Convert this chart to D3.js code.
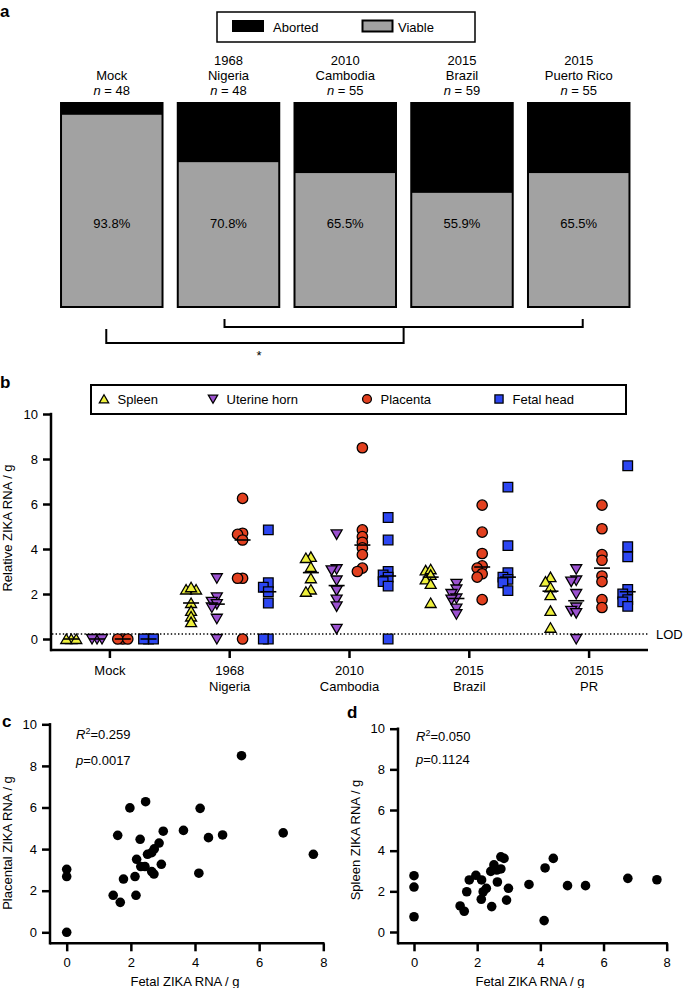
<!DOCTYPE html>
<html><head><meta charset="utf-8">
<script src="https://cdn.jsdelivr.net/npm/d3@7"></script>
<style>
body{margin:0;background:#fff;}
svg{display:block;font-family:"Liberation Sans",Arial,Helvetica,sans-serif;}
</style></head><body>
<svg id="chart" width="685" height="988"></svg>
<script>
// ---------- Panel a data ----------
const catA = ["Mock","1968 Nigeria","2010 Cambodia","2015 Brazil","2015 Puerto Rico"];
const catALine1 = ["","1968","2010","2015","2015"];
const catALine2 = ["Mock","Nigeria","Cambodia","Brazil","Puerto Rico"];
const catAN = [48,48,55,59,55];
const viablePct = [93.8,70.8,65.5,55.9,65.5];
const outcomeLegend = ["Aborted","Viable"];

// ---------- Panel b data ----------
const catB = ["Mock","1968 Nigeria","2010 Cambodia","2015 Brazil","2015 PR"];
const catBLine1 = ["Mock","1968","2010","2015","2015"];
const catBLine2 = ["","Nigeria","Cambodia","Brazil","PR"];
const tissues = ["Spleen","Uterine horn","Placenta","Fetal head"];
const spleenRNA = [
  [0,0,0],
  [2.2,2.2,2.3,1.6,1.25,1.0,0.75],
  [3.65,3.6,3.2,2.7,2.2,2.1],
  [3.05,3.1,2.85,2.65,2.45,1.6],
  [2.75,2.55,2.3,1.95,1.25,0.5]
];
const uterineRNA = [
  [0,0,0],
  [2.7,1.85,1.65,1.55,1.4,0.9,0],
  [4.65,3.1,3.05,2.6,2.15,1.75,1.45,0.45],
  [2.45,2.2,2.0,1.8,1.75,1.35,1.1],
  [3.1,2.6,2.55,2.0,1.4,1.25,1.15,0]
];
const placentaRNA = [
  [0,0,0],
  [6.25,4.7,4.65,4.4,2.7,2.7,0],
  [8.5,4.85,4.55,4.3,4.05,3.75,3.15,3.0],
  [5.95,4.75,3.8,3.25,3.15,2.9,2.75,1.75],
  [5.95,4.9,3.75,3.5,2.8,2.55,1.75,1.4]
];
const fetalRNA = [
  [0,0,0],
  [4.85,2.5,2.3,2.1,1.6,0,0],
  [5.4,4.4,3.0,2.85,2.75,2.55,2.35,0],
  [6.75,4.15,2.95,2.75,2.65,2.5,2.15],
  [7.7,4.1,3.65,2.2,2.0,1.75,1.65,1.45]
];
const tissueColors = ["#eef03c","#9b52cf","#e2401f","#2c46f2"];
const LOD = 0.22;
const yTicksB = [0,2,4,6,8,10];

// ---------- Panel c data ----------
const fetalC = [0,0,0,5.45,2.46,1.97,4.16,1.59,2.29,3.01,3.64,4.42,4.86,6.75,7.69,2.88,2.73,2.65,2.52,2.18,2.31,2.44,2.95,2.65,2.72,2.13,1.77,4.12,1.45,2.16,1.67];
const placentalC = [3.03,2.68,0,8.49,6.28,5.98,5.96,4.66,4.47,4.86,4.90,4.55,4.68,4.78,3.75,4.29,4.01,3.83,3.75,3.51,3.16,3.16,3.27,2.92,2.80,2.68,2.56,2.84,1.78,1.78,1.44];
const statsC = ["0.259","0.0017"];

// ---------- Panel d data ----------
const fetalD = [0,0,0,1.46,1.59,1.67,1.75,1.96,2.14,2.19,2.29,2.13,2.46,2.43,2.53,2.62,2.75,2.75,2.85,2.64,2.93,2.99,3.64,4.12,4.15,4.41,4.86,5.43,6.77,7.69];
const spleenD = [2.77,2.21,0.75,1.28,1.02,1.98,2.56,2.79,2.56,1.98,2.15,1.61,1.25,2.98,3.30,3.05,3.10,3.70,3.62,2.46,1.57,2.15,2.34,0.56,3.15,3.62,2.28,2.28,2.64,2.57];
const statsD = ["0.050","0.1124"];
const scatterTicks = {x:[0,2,4,6,8], y:[0,2,4,6,8,10]};

// ================= drawing =================
const svg = d3.select("#chart");
const FS = 13;

function panelLabel(t,x,y){
  svg.append("text").attr("x",x).attr("y",y).attr("font-size",17).attr("font-weight","bold").text(t);
}

// ---------- Panel a ----------
panelLabel("a",0,17);
const xA = d3.scaleBand().domain(catA).range([53.4,637.1]).paddingInner(0.1135).paddingOuter(0.05675);
const yA = d3.scaleLinear().domain([0,100]).range([308,102]);
const bwA = xA.bandwidth();
const gA = svg.append("g");
catA.forEach((c,i)=>{
  const x0 = xA(c);
  gA.append("rect").attr("x",x0).attr("y",yA(100)).attr("width",bwA).attr("height",yA(0)-yA(100)).attr("fill","#000");
  gA.append("rect").attr("x",x0+2).attr("y",yA(viablePct[i])).attr("width",bwA-4)
    .attr("height",yA(0)-yA(viablePct[i])-2).attr("fill","#a2a2a2");
  const cx = x0+bwA/2;
  gA.append("text").attr("x",cx).attr("y",yA(41)+4.5).attr("text-anchor","middle").attr("font-size",FS).text(viablePct[i].toFixed(1)+"%");
  if (catALine1[i]) gA.append("text").attr("x",cx).attr("y",64.5).attr("text-anchor","middle").attr("font-size",FS).text(catALine1[i]);
  gA.append("text").attr("x",cx).attr("y",79.5).attr("text-anchor","middle").attr("font-size",FS).text(catALine2[i]);
  const t = gA.append("text").attr("x",cx).attr("y",95).attr("text-anchor","middle").attr("font-size",FS);
  t.append("tspan").attr("font-style","italic").text("n");
  t.append("tspan").text(" = "+catAN[i]);
});
// legend a
svg.append("rect").attr("x",217).attr("y",12).attr("width",258).attr("height",30).attr("fill","none").attr("stroke","#000").attr("stroke-width",1.5);
svg.append("rect").attr("x",232).attr("y",20).attr("width",32).attr("height",12).attr("fill","#000");
svg.append("text").attr("x",273).attr("y",31.5).attr("font-size",FS).text(outcomeLegend[0]);
svg.append("rect").attr("x",362.5).attr("y",20.5).attr("width",30).attr("height",11).attr("fill","#a2a2a2").attr("stroke","#000").attr("stroke-width",2);
svg.append("text").attr("x",398).attr("y",31.5).attr("font-size",FS).text(outcomeLegend[1]);
// brackets
const cA = c => xA(c)+bwA/2;
const upL = cA(catA[1])-4, upR = cA(catA[4])+4, upMid = (upL+upR)/2;
const loL = cA(catA[0])-5.5;
svg.append("path").attr("d",`M${upL},319V327H${upR}V319`).attr("fill","none").attr("stroke","#000").attr("stroke-width",2);
svg.append("path").attr("d",`M${loL},329V343H${upMid}V327`).attr("fill","none").attr("stroke","#000").attr("stroke-width",2);
svg.append("text").attr("x",(loL+upMid)/2+4).attr("y",360).attr("text-anchor","middle").attr("font-size",FS).text("*");

// ---------- Panel b ----------
panelLabel("b",0,388);
const xB = d3.scaleBand().domain(catB).range([50,649]);
const xT = d3.scaleBand().domain(tissues).range([-51.5,51.5]);
const yB = d3.scaleLinear().domain([0,10]).range([639,414]);
const gB = svg.append("g");

// LOD
gB.append("line").attr("x1",52).attr("x2",648).attr("y1",yB(LOD)).attr("y2",yB(LOD))
  .attr("stroke","#000").attr("stroke-width",1.4).attr("stroke-dasharray","1.4,2.2");
gB.append("text").attr("x",656).attr("y",yB(LOD)+5).attr("font-size",FS).text("LOD");

// axes
const yAxB = d3.axisLeft(yB).tickValues(yTicksB).tickSize(8).tickPadding(5).tickSizeOuter(0);
const gyB = gB.append("g").attr("transform","translate(51,0)").call(yAxB);
gyB.select(".domain").remove();
gyB.selectAll(".tick line").attr("stroke-width",2.5);
gyB.selectAll(".tick text").attr("font-size",FS).attr("font-family","inherit").attr("fill","#000");
gB.append("line").attr("x1",51).attr("x2",51).attr("y1",yB(10)-1.2).attr("y2",651.2).attr("stroke","#000").attr("stroke-width",2.5);
const xAxB = d3.axisBottom(xB).tickSize(8).tickFormat("").tickSizeOuter(0);
const gxB = gB.append("g").attr("transform","translate(0,650)").call(xAxB);
gxB.select(".domain").remove();
gxB.selectAll(".tick line").attr("stroke-width",2.5);
gB.append("line").attr("x1",50).attr("x2",648).attr("y1",650).attr("y2",650).attr("stroke","#000").attr("stroke-width",2.5);
catB.forEach((c,i)=>{
  const cx = xB(c)+xB.bandwidth()/2;
  gB.append("text").attr("x",cx).attr("y",674.5).attr("text-anchor","middle").attr("font-size",FS).text(catBLine1[i]);
  if (catBLine2[i]) gB.append("text").attr("x",cx).attr("y",690.5).attr("text-anchor","middle").attr("font-size",FS).text(catBLine2[i]);
});
gB.append("text").attr("transform",`translate(11.5,528) rotate(-90)`).attr("text-anchor","middle").attr("font-size",FS).text("Relative ZIKA RNA / g");

// markers
const markerPath = [
  "M0,-5L5.5,4.5L-5.5,4.5Z",
  "M-5.5,-4.5L5.5,-4.5L0,5Z",
  d3.symbol(d3.symbolCircle, Math.PI*5.2*5.2)(),
  "M-4.8,-4.8H4.8V4.8H-4.8Z"
];
function dodge(vals, yS, minD, step){
  const idx = vals.map((v,i)=>i).sort((a,b)=>vals[b]-vals[a]);
  const placed=[]; const off=new Array(vals.length).fill(0);
  idx.forEach(i=>{
    const y=yS(vals[i]);
    for(let k=0;k<30;k++){
      const cand = k===0?0:(k%2?-1:1)*Math.ceil(k/2)*step;
      if(placed.every(p=>Math.hypot(p.x-cand,p.y-y)>=minD)){off[i]=cand;placed.push({x:cand,y});break;}
    }
  });
  return off;
}
const tissueData = [spleenRNA, uterineRNA, placentaRNA, fetalRNA];
catB.forEach((c,gi)=>{
  tissues.forEach((t,ti)=>{
    const vals = tissueData[ti][gi];
    const cx = xB(c)+xB.bandwidth()/2 + xT(t)+xT.bandwidth()/2;
    const off = dodge(vals,yB,5,5);
    vals.forEach((v,k)=>{
      gB.append("path").attr("d",markerPath[ti]).attr("transform",`translate(${cx+off[k]},${yB(v)})`)
        .attr("fill",tissueColors[ti]).attr("stroke","#000").attr("stroke-width",1.3);
    });
  });
});
catB.forEach((c,gi)=>{
  tissues.forEach((t,ti)=>{
    const vals = tissueData[ti][gi];
    const cx = xB(c)+xB.bandwidth()/2 + xT(t)+xT.bandwidth()/2;
    const m = d3.median(vals);
    gB.append("line").attr("x1",cx-8).attr("x2",cx+8).attr("y1",yB(m)).attr("y2",yB(m)).attr("stroke","#000").attr("stroke-width",1.6);
  });
});
// legend b
svg.append("rect").attr("x",91).attr("y",385).attr("width",535).attr("height",29).attr("fill","#fff").attr("stroke","#000").attr("stroke-width",2);
const legX = [104,213,367,499];
tissues.forEach((t,ti)=>{
  svg.append("path").attr("d",markerPath[ti]).attr("transform",`translate(${legX[ti]},399) scale(0.85)`)
    .attr("fill",tissueColors[ti]).attr("stroke","#000").attr("stroke-width",1.5);
  svg.append("text").attr("x",legX[ti]+13.5).attr("y",404).attr("font-size",FS).text(t);
});

// ---------- scatter panels ----------
function scatterPanel(opt){
  const g = svg.append("g");
  const xs = d3.scaleLinear().domain([0,8]).range(opt.xr);
  const ys = d3.scaleLinear().domain([0,10]).range(opt.yr);
  const ax = d3.axisLeft(ys).tickValues(scatterTicks.y).tickSize(8).tickPadding(5);
  const gy = g.append("g").attr("transform",`translate(${opt.ax},0)`).call(ax);
  gy.select(".domain").remove();
  gy.selectAll(".tick line").attr("stroke-width",2.5);
  gy.selectAll(".tick text").attr("font-size",FS).attr("font-family","inherit").attr("fill","#000");
  const bx = d3.axisBottom(xs).tickValues(scatterTicks.x).tickSize(8).tickPadding(6);
  const gx = g.append("g").attr("transform",`translate(0,${opt.ay})`).call(bx);
  gx.select(".domain").remove();
  gx.selectAll(".tick line").attr("stroke-width",2.5);
  gx.selectAll(".tick text").attr("font-size",FS).attr("font-family","inherit").attr("fill","#000");
  g.append("line").attr("x1",opt.ax).attr("x2",opt.ax).attr("y1",ys(10)-1.2).attr("y2",opt.ay+1.2).attr("stroke","#000").attr("stroke-width",2.5);
  g.append("line").attr("x1",opt.ax).attr("x2",xs(8)+1.2).attr("y1",opt.ay).attr("y2",opt.ay).attr("stroke","#000").attr("stroke-width",2.5);
  opt.xv.forEach((v,i)=>{
    g.append("circle").attr("cx",xs(v)).attr("cy",ys(opt.yv[i])).attr("r",4.8).attr("fill","#000");
  });
  g.append("text").attr("x",opt.xtc).attr("y",986).attr("text-anchor","middle").attr("font-size",FS).text("Fetal ZIKA RNA / g");
  g.append("text").attr("transform",`translate(${opt.ytx},${opt.ytc}) rotate(-90)`).attr("text-anchor","middle").attr("font-size",FS).text(opt.ytitle);
  const r = g.append("text").attr("x",opt.sx).attr("y",opt.sy1).attr("font-size",FS);
  r.append("tspan").attr("font-style","italic").text("R");
  r.append("tspan").attr("font-size",9).attr("dy",-5).text("2");
  r.append("tspan").attr("dy",5).text("=" + opt.stats[0]);
  const p = g.append("text").attr("x",opt.sx).attr("y",opt.sy2).attr("font-size",FS);
  p.append("tspan").attr("font-style","italic").text("p");
  p.append("tspan").text("=" + opt.stats[1]);
}
panelLabel("c",2,727);
scatterPanel({xr:[66.7,323.3], yr:[932.3,724.3], ax:50, ay:943.3, xv:fetalC, yv:placentalC,
  xtc:185, ytx:11.5, ytc:843, ytitle:"Placental ZIKA RNA / g", sx:76, sy1:739, sy2:765, stats:statsC});
panelLabel("d",347,718);
scatterPanel({xr:[414,666.7], yr:[932,728.7], ax:398, ay:943.3, xv:fetalD, yv:spleenD,
  xtc:530, ytx:359.5, ytc:840, ytitle:"Spleen ZIKA RNA / g", sx:416, sy1:741, sy2:764, stats:statsD});
</script>
</body></html>
